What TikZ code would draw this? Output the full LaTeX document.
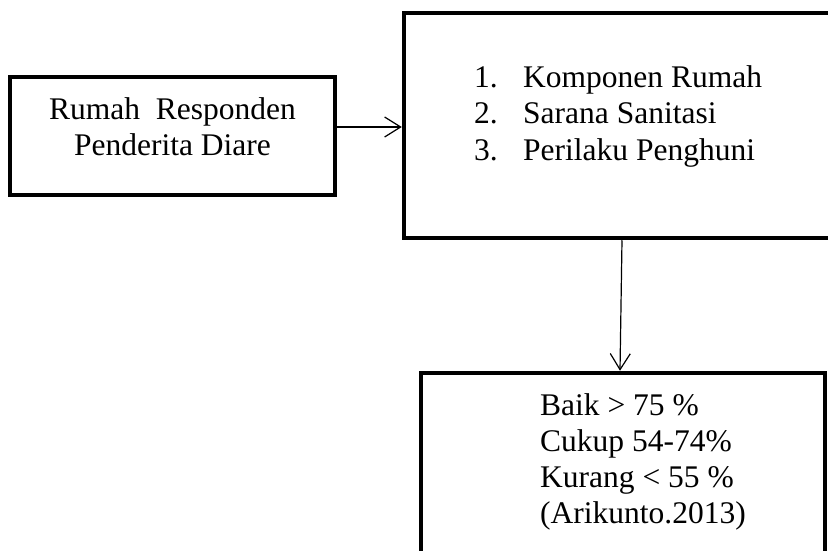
\documentclass[tikz,border=0pt]{standalone}
\usepackage{fontspec}
\setmainfont{Liberation Serif}
\usetikzlibrary{arrows.meta,calc,positioning}

\begin{document}
\begin{tikzpicture}[x=1pt,y=-1pt,
 box/.style={draw,line width=4.5pt,inner sep=0pt},
 txt/.style={inner sep=0pt,font=\fontsize{31.5}{36}\selectfont},
 arr/.style={line width=1.2pt,-{Straight Barb[length=16pt,width=20pt,line width=1.2pt]}}]
\useasboundingbox (0,0) rectangle (828,551);
\clip (0,0) rectangle (828,551);
\node[box,minimum width=325pt,minimum height=118pt] (resp) at (172.5,136) {};
\node[box,minimum width=456pt,minimum height=225pt] (komp) at (632,125.5) {};
\node[box,minimum width=404pt,minimum height=227pt] (hasil) at (623,486.5) {};
\node[txt,anchor=base] (resp1) at (172.5,120) {Rumah~ Responden};
\node[txt,anchor=base] (resp2) at (172.5,155) {Penderita Diare};
\foreach \t [count=\i] in {Komponen Rumah,Sarana Sanitasi,Perilaku Penghuni}{
 \node[txt,anchor=base west] (num\i) at (474,51+36.5*\i) {\i.};
 \node[txt,anchor=base west] (item\i) at (523,51+36.5*\i) {\t};
}
\foreach \t [count=\i] in {Baik > 75 \%,Cukup 54-74\%,Kurang < 55 \%,(Arikunto.2013)}{
 \node[txt,anchor=base west] (nilai\i) at (540,379+36*\i) {\t};
}
\draw[arr] ([yshift=9pt]resp.east) -- ([yshift=9pt]resp.east -| komp.west);
\draw[arr] ([xshift=-10pt]komp.south) -- ([xshift=-3pt]hasil.north);
\end{tikzpicture}
\end{document}
